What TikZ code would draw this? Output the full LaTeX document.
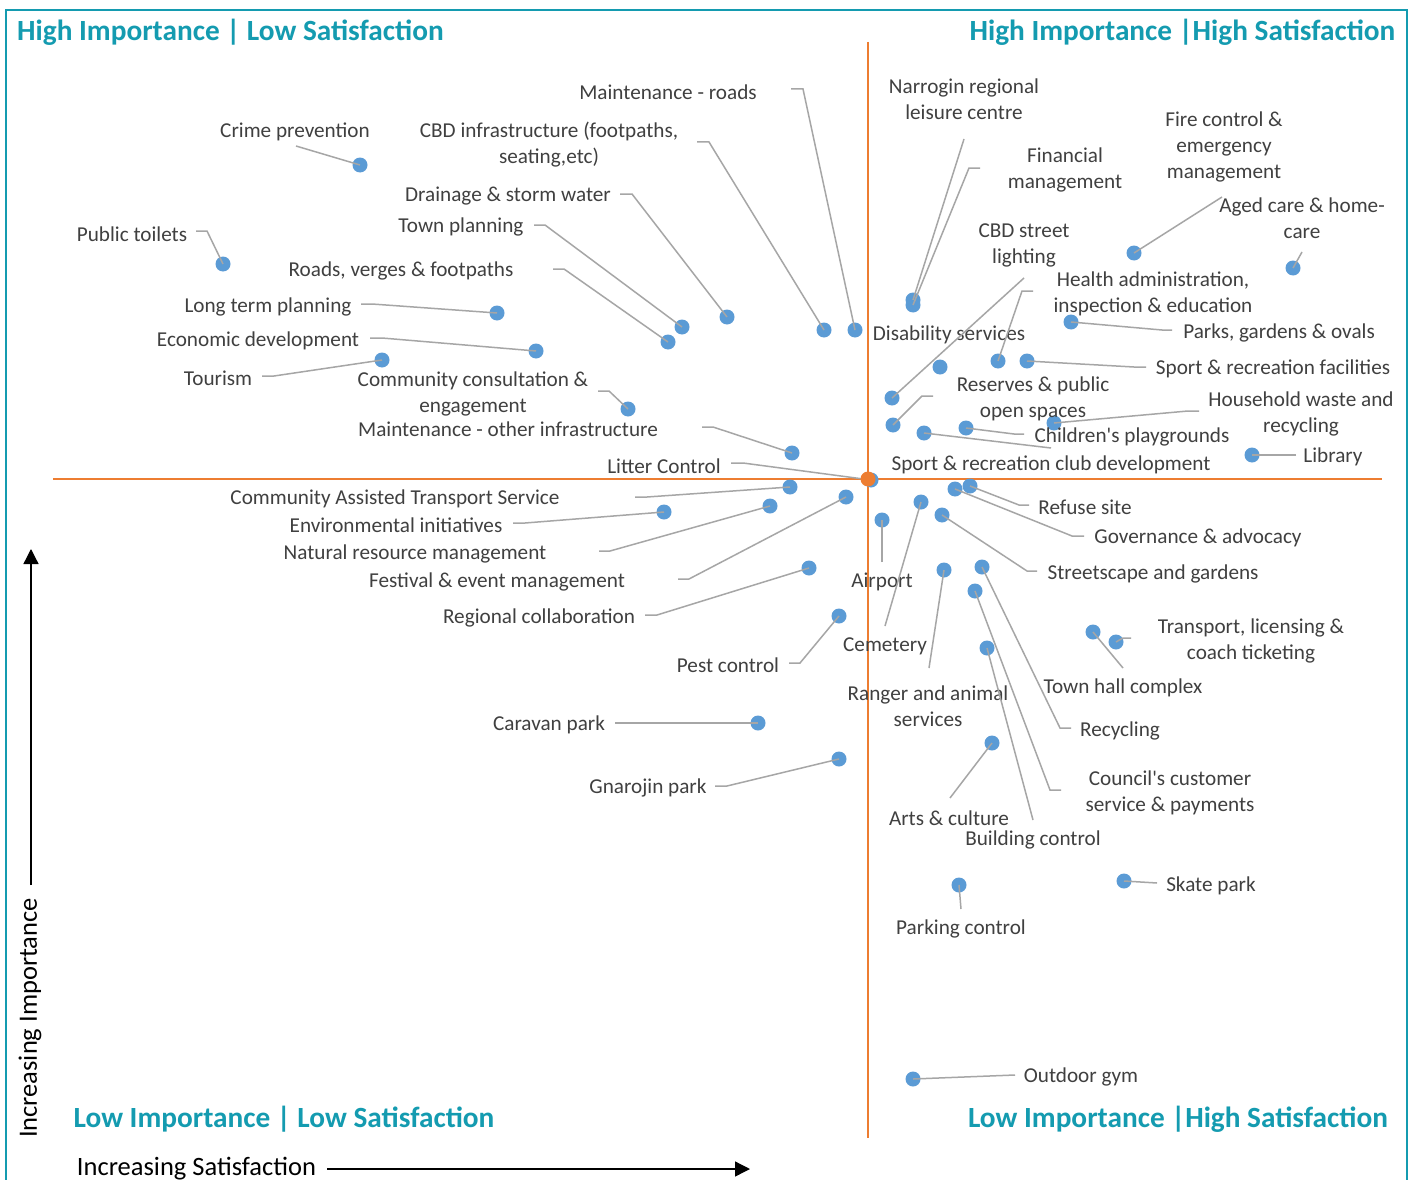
\documentclass[tikz,border=0pt]{standalone}
\usepackage{fontspec}
\setmainfont{Carlito}
\usetikzlibrary{arrows.meta}
\definecolor{txtgrey}{HTML}{404040}
\definecolor{leadgrey}{HTML}{A6A6A6}
\definecolor{dotblue}{HTML}{5B9BD5}
\definecolor{orangeax}{HTML}{ED7D31}
\definecolor{tealq}{HTML}{149BB0}
\begin{document}
\begin{tikzpicture}[x=1pt,y=-1pt,
  lbl/.style={font=\fontsize{21.2}{26}\selectfont, text=txtgrey, align=center, inner sep=0pt, yshift=-2pt},
  dotn/.style={circle, fill=dotblue, minimum size=15pt, inner sep=0pt},
  leader/.style={draw=leadgrey, line width=1.5pt},
  quad/.style={font=\fontsize{29.3}{34}\selectfont\bfseries, text=tealq, inner sep=0pt, yshift=-1pt},
  axisline/.style={draw=orangeax, line width=2pt},
  axlbl/.style={font=\fontsize{26.5}{30}\selectfont, text=black, inner sep=0pt},
  arrowln/.style={draw=black, line width=1.3pt, -{Triangle[length=15pt,width=15pt]}}]
\useasboundingbox (0,0) rectangle (1416,1180);
\fill[white] (0,0) rectangle (1416,1180);
% frame
\coordinate (fb1) at (6,1182);
\coordinate (ft1) at (6,10);
\coordinate (ft2) at (1407,10);
\coordinate (fb2) at (1407,1182);
\draw[tealq, line width=2pt] (fb1) -- (ft1) -- (ft2) -- (fb2);
% quadrant titles
\node[quad] (qTL) at (230.5,31) {High Importance | Low Satisfaction};
\node[quad] (qTR) at (1182.5,31) {High Importance |High Satisfaction};
\node[quad] (qBL) at (284,1118) {Low Importance | Low Satisfaction};
\node[quad] (qBR) at (1178,1118) {Low Importance |High Satisfaction};
% axes
\coordinate (hx1) at (53,479);
\coordinate (hx2) at (1382,479);
\coordinate (vy1) at (868,42);
\coordinate (vy2) at (868,1138);
\draw[axisline] (hx1) -- (hx2);
\draw[axisline] (vy1) -- (vy2);
% axis arrows and labels
\coordinate (va0) at (31,885);
\coordinate (va1) at (31,549);
\draw[arrowln] (va0) -- (va1);
\node[axlbl, rotate=90] (yl) at (30,1018) {Increasing Importance};
\coordinate (ha0) at (327,1169);
\coordinate (ha1) at (750,1169);
\draw[arrowln] (ha0) -- (ha1);
\node[axlbl] (xl) at (196.5,1169) {Increasing Satisfaction};
% dots
\node[dotn] (D1) at (360,165) {};
\node[dotn] (D2) at (223,264) {};
\node[dotn] (D3) at (855,330) {};
\node[dotn] (D4) at (824,330) {};
\node[dotn] (D5) at (727,317) {};
\node[dotn] (D6) at (682,327) {};
\node[dotn] (D7) at (668,342) {};
\node[dotn] (D8) at (497,313) {};
\node[dotn] (D9) at (536,351) {};
\node[dotn] (D10) at (382,360) {};
\node[dotn] (D11) at (628,409) {};
\node[dotn] (D12) at (792,453) {};
\node[dotn] (D13) at (871,480) {};
\node[dotn] (D14) at (790,487) {};
\node[dotn] (D15) at (664,512) {};
\node[dotn] (D16) at (770,506) {};
\node[dotn] (D17) at (846,497) {};
\node[dotn] (D18) at (809,568) {};
\node[dotn] (D19) at (839,616) {};
\node[dotn] (D20) at (758,723) {};
\node[dotn] (D21) at (839,759) {};
\node[dotn] (D22) at (913,300) {};
\node[dotn] (D23) at (913,305) {};
\node[dotn] (D24) at (1134,253) {};
\node[dotn] (D25) at (1293,268) {};
\node[dotn] (D26) at (892,398) {};
\node[dotn] (D27) at (940,367) {};
\node[dotn] (D28) at (998,361) {};
\node[dotn] (D29) at (1071,322) {};
\node[dotn] (D30) at (1027,361) {};
\node[dotn] (D31) at (893,425) {};
\node[dotn] (D32) at (1054,423) {};
\node[dotn] (D33) at (966,428) {};
\node[dotn] (D34) at (924,433) {};
\node[dotn] (D35) at (1252,455) {};
\node[dotn] (D36) at (970,486) {};
\node[dotn] (D37) at (955,489) {};
\node[dotn] (D38) at (942,515) {};
\node[dotn] (D39) at (882,520) {};
\node[dotn] (D40) at (921,502) {};
\node[dotn] (D41) at (944,570) {};
\node[dotn] (D42) at (1093,632) {};
\node[dotn] (D43) at (1116,642) {};
\node[dotn] (D44) at (982,567) {};
\node[dotn] (D45) at (975,591) {};
\node[dotn] (D46) at (987,648) {};
\node[dotn] (D47) at (992,743) {};
\node[dotn] (D48) at (1124,881) {};
\node[dotn] (D49) at (959,885) {};
\node[dotn] (D50) at (913,1079) {};
% labels
\node[lbl] (L1) at (295,130) {Crime prevention};
\node[lbl] (L2) at (132,232) {Public toilets};
\node[lbl] (L3) at (668,90) {Maintenance - roads};
\node[lbl] (L4) at (549,143) {CBD infrastructure (footpaths,\\seating,etc)};
\node[lbl] (L5) at (508,194) {Drainage \& storm water};
\node[lbl] (L6) at (461,225) {Town planning};
\node[lbl] (L7) at (401,269) {Roads, verges \& footpaths};
\node[lbl] (L8) at (268,305) {Long term planning};
\node[lbl] (L9) at (258,339) {Economic development};
\node[lbl] (L10) at (218,376) {Tourism};
\node[lbl] (L11) at (473,392) {Community consultation \&\\engagement};
\node[lbl] (L12) at (508,427) {Maintenance - other infrastructure};
\node[lbl] (L13) at (664,464) {Litter Control};
\node[lbl] (L14) at (395,497) {Community Assisted Transport Service};
\node[lbl] (L15) at (396,523) {Environmental initiatives};
\node[lbl] (L16) at (415,552) {Natural resource management};
\node[lbl] (L17) at (497,580) {Festival \& event management};
\node[lbl] (L18) at (539,616) {Regional collaboration};
\node[lbl] (L19) at (728,663) {Pest control};
\node[lbl] (L20) at (549,723) {Caravan park};
\node[lbl] (L21) at (648,786) {Gnarojin park};
\node[lbl] (L22) at (964,97) {Narrogin regional\\leisure centre};
\node[lbl] (L23) at (1065,168) {Financial\\management};
\node[lbl] (L24) at (1224,145) {Fire control \&\\emergency\\management};
\node[lbl] (L25) at (1302,216.5) {Aged care \& home-\\care};
\node[lbl] (L26) at (1024,243.5) {CBD street\\lighting};
\node[lbl] (L27) at (949,333) {Disability services};
\node[lbl] (L28) at (1153,291.5) {Health administration,\\inspection \& education};
\node[lbl] (L29) at (1279,331) {Parks, gardens \& ovals};
\node[lbl] (L30) at (1273,367) {Sport \& recreation facilities};
\node[lbl] (L31) at (1033,396.5) {Reserves \& public\\open spaces};
\node[lbl] (L32) at (1301,412) {Household waste and\\recycling};
\node[lbl] (L33) at (1132,435) {Children\textquotesingle s playgrounds};
\node[lbl] (L34) at (1051,463) {Sport \& recreation club development};
\node[lbl] (L35) at (1333,455) {Library};
\node[lbl] (L36) at (1085,505) {Refuse site};
\node[lbl] (L37) at (1198,536) {Governance \& advocacy};
\node[lbl] (L38) at (1153,572) {Streetscape and gardens};
\node[lbl] (L39) at (882,580) {Airport};
\node[lbl] (L40) at (885,644) {Cemetery};
\node[lbl] (L41) at (928,704) {Ranger and animal\\services};
\node[lbl] (L42) at (1123,686) {Town hall complex};
\node[lbl] (L43) at (1251,639) {Transport, licensing \&\\coach ticketing};
\node[lbl] (L44) at (1120,729) {Recycling};
\node[lbl] (L45) at (1170,790.5) {Council\textquotesingle s customer\\service \& payments};
\node[lbl] (L46) at (1033,838) {Building control};
\node[lbl] (L47) at (949,816) {Arts \& culture};
\node[lbl] (L48) at (1211,884) {Skate park};
\node[lbl] (L49) at (961,927) {Parking control};
\node[lbl] (L50) at (1081,1075) {Outdoor gym};
% leader start points
\coordinate (s1) at (296,146);
\coordinate (s2) at (196,231);
\coordinate (s3) at (791,89);
\coordinate (s4) at (697,142);
\coordinate (s5) at (620,194);
\coordinate (s6) at (534,225);
\coordinate (s7) at (553,269);
\coordinate (s8) at (361,304);
\coordinate (s9) at (370,338);
\coordinate (s10) at (262,376);
\coordinate (s11) at (598,391);
\coordinate (s12) at (702,427);
\coordinate (s13) at (731,463);
\coordinate (s14) at (635,497);
\coordinate (s15) at (513,523);
\coordinate (s16) at (599,551);
\coordinate (s17) at (678,579);
\coordinate (s18) at (645,615);
\coordinate (s19) at (789,663);
\coordinate (s20) at (615,723);
\coordinate (s21) at (715,786);
\coordinate (s22) at (964,139);
\coordinate (s23) at (980,168);
\coordinate (s24) at (1222,197);
\coordinate (s25) at (1302,252);
\coordinate (s26) at (1024,278);
\coordinate (s28) at (1033,291);
\coordinate (s29) at (1172,330);
\coordinate (s30) at (1146,367);
\coordinate (s31) at (933,396);
\coordinate (s32) at (1199,411);
\coordinate (s33) at (1024,434);
\coordinate (s34) at (1051,448);
\coordinate (s35) at (1296,455);
\coordinate (s36) at (1029,505);
\coordinate (s37) at (1084,536);
\coordinate (s38) at (1037,571);
\coordinate (s39) at (882,562);
\coordinate (s40) at (885,626);
\coordinate (s41) at (929,668);
\coordinate (s42) at (1123,668);
\coordinate (s43) at (1131,638);
\coordinate (s44) at (1071,728);
\coordinate (s45) at (1061,790);
\coordinate (s46) at (1033,820);
\coordinate (s47) at (950,798);
\coordinate (s48) at (1157,883);
\coordinate (s49) at (961,909);
\coordinate (s50) at (1015,1075);
% leaders
\draw[leader] (s1) -- (D1.center);
\draw[leader] (s2) -- ++(11,0) -- (D2.center);
\draw[leader] (s3) -- ++(12,0) -- (D3.center);
\draw[leader] (s4) -- ++(12,0) -- (D4.center);
\draw[leader] (s5) -- ++(12,0) -- (D5.center);
\draw[leader] (s6) -- ++(11,0) -- (D6.center);
\draw[leader] (s7) -- ++(11,0) -- (D7.center);
\draw[leader] (s8) -- ++(11,0) -- (D8.center);
\draw[leader] (s9) -- ++(12,0) -- (D9.center);
\draw[leader] (s10) -- ++(12,0) -- (D10.center);
\draw[leader] (s11) -- ++(11,0) -- (D11.center);
\draw[leader] (s12) -- ++(11,0) -- (D12.center);
\draw[leader] (s13) -- ++(12,0) -- (D13.center);
\draw[leader] (s14) -- ++(12,0) -- (D14.center);
\draw[leader] (s15) -- ++(12,0) -- (D15.center);
\draw[leader] (s16) -- ++(11,0) -- (D16.center);
\draw[leader] (s17) -- ++(11,0) -- (D17.center);
\draw[leader] (s18) -- ++(12,0) -- (D18.center);
\draw[leader] (s19) -- ++(11,0) -- (D19.center);
\draw[leader] (s20) -- (D20.center);
\draw[leader] (s21) -- ++(12,0) -- (D21.center);
\draw[leader] (s22) -- (D22.center);
\draw[leader] (s23) -- ++(-11,0) -- (D23.center);
\draw[leader] (s24) -- (D24.center);
\draw[leader] (s25) -- (D25.center);
\draw[leader] (s26) -- (D26.center);
\draw[leader] (s28) -- ++(-11,0) -- (D28.center);
\draw[leader] (s29) -- ++(-10,0) -- (D29.center);
\draw[leader] (s30) -- ++(-12,0) -- (D30.center);
\draw[leader] (s31) -- ++(-11,0) -- (D31.center);
\draw[leader] (s32) -- ++(-11,0) -- (D32.center);
\draw[leader] (s33) -- ++(-10,0) -- (D33.center);
\draw[leader] (s34) -- (D34.center);
\draw[leader] (s35) -- (D35.center);
\draw[leader] (s36) -- ++(-10,0) -- (D36.center);
\draw[leader] (s37) -- ++(-12,0) -- (D37.center);
\draw[leader] (s38) -- ++(-10,0) -- (D38.center);
\draw[leader] (s39) -- (D39.center);
\draw[leader] (s40) -- (D40.center);
\draw[leader] (s41) -- (D41.center);
\draw[leader] (s42) -- (D42.center);
\draw[leader] (s43) -- ++(-8,0) -- (D43.center);
\draw[leader] (s44) -- ++(-11,0) -- (D44.center);
\draw[leader] (s45) -- ++(-11,0) -- (D45.center);
\draw[leader] (s46) -- (D46.center);
\draw[leader] (s47) -- (D47.center);
\draw[leader] (s48) -- (D48.center);
\draw[leader] (s49) -- (D49.center);
\draw[leader] (s50) -- (D50.center);
% centre point
\node[circle, fill=orangeax, minimum size=15pt, inner sep=0pt] (ctr) at (868,479) {};
\end{tikzpicture}
\end{document}
